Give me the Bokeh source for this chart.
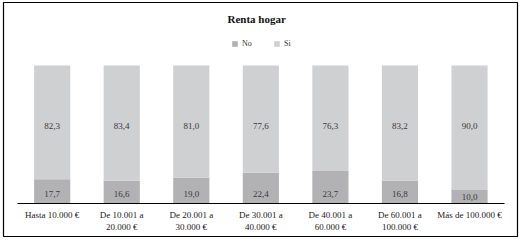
import numpy as np
from bokeh.plotting import figure
from bokeh.models import ColumnDataSource, Range1d, FixedTicker, Legend, LegendItem
from bokeh.core.properties import value
from bokeh.embed import file_html
from bokeh.resources import INLINE

categories = ["Hasta 10.000 €", "De 10.001 a\n20.000 €", "De 20.001 a\n30.000 €",
              "De 30.001 a\n40.000 €", "De 40.001 a\n60.000 €", "De 60.001 a\n100.000 €",
              "Más de 100.000 €"]
no_values = [17.7, 16.6, 19.0, 22.4, 23.7, 16.8, 10.0]
si_values = [82.3, 83.4, 81.0, 77.6, 76.3, 83.2, 90.0]
series_names = ["No", "Si"]
title_text = "Renta hogar"

FONT = "Liberation Serif"
C_NO = "#b2b2b4"
C_SI = "#cfd0d2"

x = np.arange(len(categories)) + 0.5
no = np.array(no_values)
si = np.array(si_values)

def fmt(v):
    return f"{v:.1f}".replace(".", ",")

src = ColumnDataSource(dict(
    x=x, no=no, top=no + si,
    no_lbl=[fmt(v) for v in no_values], si_lbl=[fmt(v) for v in si_values],
    no_y=np.minimum(no / 2, 7.0), si_y=np.full(len(x), 56.5),
))

p = figure(width=521, height=242, output_backend="svg", toolbar_location=None,
           x_range=Range1d(-0.2, 7.19), y_range=Range1d(-23.6, 145.5),
           min_border_left=3, min_border_right=4, min_border_top=2, min_border_bottom=6)
p.outline_line_color = "#000000"
p.outline_line_width = 1.2
p.background_fill_color = "white"
p.border_fill_color = "white"
p.grid.visible = False
p.yaxis.visible = False

r_no = p.vbar(x="x", bottom=0, top="no", width=0.52, source=src, fill_color=C_NO, line_color=None)
r_si = p.vbar(x="x", bottom="no", top="top", width=0.52, source=src, fill_color=C_SI, line_color=None)

p.text(x="x", y="no_y", text="no_lbl", source=src, text_font=value(FONT), text_font_size="9px",
       text_color="#3a3a3a", text_align="center", text_baseline="middle")
p.text(x="x", y="si_y", text="si_lbl", source=src, text_font=value(FONT), text_font_size="9px",
       text_color="#3a3a3a", text_align="center", text_baseline="middle")

p.text(x=[3.44], y=[133.6], text=[title_text], text_font=value(FONT), text_font_size="11px",
       text_font_style="bold", text_color="#111111", text_align="center", text_baseline="middle")

ax = p.xaxis[0]
ax.fixed_location = 0
ax.bounds = (0, len(categories))
ax.ticker = FixedTicker(ticks=list(x))
ax.major_label_overrides = {float(xi): c for xi, c in zip(x, categories)}
ax.major_tick_line_color = None
ax.minor_tick_line_color = None
ax.axis_line_color = "#000000"
ax.axis_line_width = 1.2
ax.major_label_text_font = FONT
ax.major_label_text_font_size = "9px"
ax.major_label_text_color = "#1a1a1a"
ax.major_label_standoff = 0
ax.major_label_text_line_height = 1.25

legend = Legend(items=[LegendItem(label=series_names[0], renderers=[r_no]),
                       LegendItem(label=series_names[1], renderers=[r_si])],
                orientation="horizontal", location=(228, 188),
                glyph_width=7, glyph_height=7, label_height=7, label_width=10,
                label_standoff=4, spacing=21, padding=0, margin=0,
                label_text_font=FONT, label_text_font_size="8px", label_text_color="#333333",
                background_fill_alpha=0, border_line_color=None)
p.add_layout(legend, "center")

open("out.html", "w").write(file_html(p, INLINE))
